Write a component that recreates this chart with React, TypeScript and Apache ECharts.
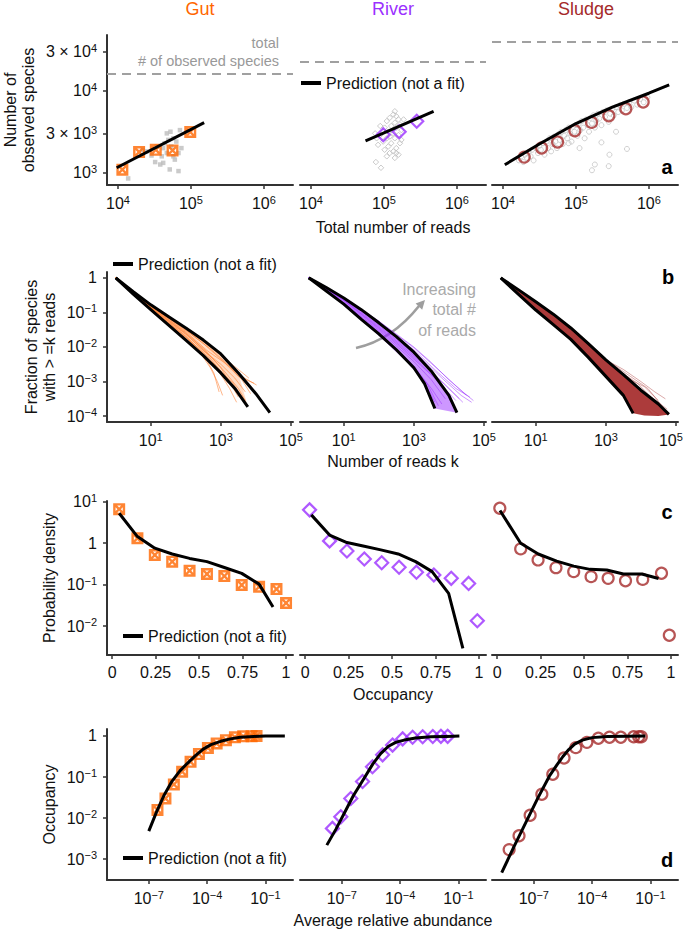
import React, { useEffect, useRef } from 'react';
import * as echarts from 'echarts';

const FONT = '"Liberation Sans", Arial, Helvetica, sans-serif';
const INK = '#111111';
const AXIS = '#333333';
const GUT = '#FF6600';
const RIVER = '#9B30FF';
const SLUDGE = '#A52A2A';
const CLOUD = '#BDBDBD';
const PRED = 'Prediction (not a fit)';

const columnTitles = ['Gut', 'River', 'Sludge'];
const columnColors = [GUT, RIVER, SLUDGE];
const panelLetters = ['a', 'b', 'c', 'd'];

// ---------------- Row a: observed species vs total reads ----------------
const aReadTicks = [1e4, 1e5, 1e6];
const aSpeciesTicks = [1e3, 3e3, 1e4, 3e4];
const aTotalSpecies = [16200, 22500, 39600];

const aGutReads = [11500, 19500, 33000, 56000, 98000];
const aGutSpecies = [1090, 1790, 1900, 1870, 3140];
const aGutPredReads = [9600, 152000];
const aGutPredSpecies = [1150, 4080];
// gray sample clouds, as [log10(reads), log10(species)]
const aGutCloudLog10 = [[4.14, 2.93], [4.34, 3.28], [4.46, 3.21], [4.53, 3.32], [4.58, 3.10], [4.62, 3.12], [4.64, 3.36], [4.67, 3.24], [4.69, 3.40], [4.71, 3.04], [4.72, 3.50], [4.73, 3.32], [4.76, 3.20], [4.78, 3.16], [4.80, 3.38], [4.83, 3.02], [4.85, 3.52], [4.83, 3.24], [4.87, 3.30], [4.60, 3.20], [4.51, 3.13], [4.67, 3.48], [4.76, 3.42], [4.39, 3.26], [4.62, 3.30]];

const aRiverReads = [98000, 162000, 282000];
const aRiverSpecies = [2900, 3160, 4250];
const aRiverPredReads = [56000, 480000];
const aRiverPredSpecies = [2450, 5600];
const aRiverCloudLog10 = [[5.15, 3.75], [5.13, 3.71], [5.17, 3.69], [5.08, 3.67], [5.2, 3.65], [5.04, 3.63], [5.15, 3.61], [5.22, 3.59], [5.1, 3.57], [5.01, 3.55], [5.17, 3.55], [5.24, 3.52], [5.06, 3.5], [5.13, 3.48], [4.95, 3.46], [5.2, 3.46], [4.9, 3.42], [5.04, 3.42], [5.15, 3.42], [4.99, 3.38], [5.1, 3.36], [5.22, 3.36], [4.92, 3.34], [5.06, 3.32], [5.17, 3.3], [5.01, 3.28], [5.13, 3.26], [5.08, 3.24], [5.2, 3.22], [5.04, 3.2], [5.15, 3.18], [4.89, 3.13], [4.96, 3.06], [5.27, 3.65], [4.88, 3.48], [4.95, 3.57], [5.24, 3.4], [5.08, 3.44], [4.99, 3.5], [5.17, 3.24]];

const aSludgeReads = [19600, 33900, 56100, 96800, 164000, 283000, 484000, 836000];
const aSludgeSpecies = [1550, 2000, 2370, 3250, 4110, 4950, 6030, 7280];
const aSludgePredReads = [10600, 31600, 100000, 316000, 1000000, 1900000];
const aSludgePredSpecies = [1250, 2240, 3980, 6310, 9330, 11800];
const aSludgeCloudLog10 = [[4.22, 3.15], [4.25, 3.2], [4.28, 3.13], [4.3, 3.22], [4.33, 3.18], [4.35, 3.25], [4.38, 3.2], [4.4, 3.28], [4.42, 3.15], [4.45, 3.3], [4.48, 3.24], [4.5, 3.33], [4.52, 3.28], [4.55, 3.36], [4.57, 3.22], [4.6, 3.38], [4.62, 3.3], [4.64, 3.42], [4.66, 3.26], [4.68, 3.35], [4.7, 3.44], [4.72, 3.38], [4.74, 3.3], [4.76, 3.47], [4.78, 3.4], [4.8, 3.5], [4.82, 3.35], [4.84, 3.45], [4.86, 3.52], [4.88, 3.42], [4.9, 3.55], [4.92, 3.48], [4.94, 3.38], [4.96, 3.56], [4.98, 3.5], [5.0, 3.58], [5.02, 3.45], [5.04, 3.6], [5.06, 3.52], [5.08, 3.63], [5.1, 3.55], [5.12, 3.42], [5.14, 3.65], [5.16, 3.58], [5.18, 3.5], [5.2, 3.67], [5.22, 3.6], [5.24, 3.7], [5.26, 3.55], [5.28, 3.64], [5.3, 3.72], [5.32, 3.66], [5.35, 3.58], [5.37, 3.74], [5.4, 3.68], [5.42, 3.76], [5.45, 3.62], [5.47, 3.72], [5.5, 3.78], [5.52, 3.7], [5.55, 3.8], [5.58, 3.74], [5.6, 3.82], [5.63, 3.76], [5.66, 3.84], [5.7, 3.79], [5.73, 3.86], [5.76, 3.8], [5.8, 3.88], [5.84, 3.83], [5.88, 3.9], [5.93, 3.86], [5.98, 3.92], [5.22, 3.03], [5.26, 3.1], [5.46, 3.22], [5.45, 3.08], [5.35, 3.37], [5.7, 3.29], [4.9, 3.36], [5.55, 3.5], [5.05, 3.3]];

// ---------------- Row b: fraction of species with >= k reads ----------------
const bKTicks = [1e1, 1e3, 1e5];
const bFracTicks = [1e-4, 1e-3, 1e-2, 1e-1, 1];
// curves as [log10(k), log10(fraction)]
const bGutUpperLog10 = [[0, 0], [0.5, -0.4], [1, -0.78], [1.5, -1.12], [2, -1.45], [2.5, -1.8], [3, -2.2], [3.5, -2.75], [4, -3.35], [4.4, -3.9]];
const bGutLowerLog10 = [[0, 0], [0.5, -0.47], [1, -0.92], [1.5, -1.36], [2, -1.8], [2.5, -2.25], [3, -2.75], [3.4, -3.2], [3.77, -3.73]];
const bGutSamplesLog10 = [
  [[0, 0], [1, -0.82], [2, -1.5], [2.5, -1.9], [3, -2.35], [3.5, -2.85], [3.95, -3.05]],
  [[0, 0], [1, -0.85], [2, -1.6], [2.5, -2.05], [3, -2.6], [3.3, -3.1], [3.5, -3.45]],
  [[0, 0], [1, -0.88], [2, -1.7], [2.5, -2.2], [2.8, -2.75], [2.95, -3.3]],
  [[0, 0], [1, -0.84], [2, -1.55], [2.6, -2.1], [3.1, -2.45], [3.6, -2.85], [4.02, -3.1]],
  [[0, 0], [1, -0.9], [2, -1.75], [2.4, -2.15], [2.7, -2.6], [2.9, -3.0], [3.05, -3.4]],
  [[0, 0], [1, -0.86], [2, -1.62], [2.5, -2.1], [3, -2.5], [3.4, -2.9], [3.7, -3.3]],
  [[0, 0], [1, -0.8], [2, -1.48], [2.5, -1.85], [3, -2.25], [3.5, -2.65], [3.8, -2.9]],
  [[0, 0], [1, -0.87], [2, -1.68], [2.6, -2.3], [3, -2.8], [3.25, -3.2], [3.45, -3.6]],
  [[0, 0], [1, -0.83], [2, -1.58], [2.6, -2.15], [3.1, -2.7], [3.5, -3.2], [3.7, -3.55]],
  [[0, 0], [1, -0.89], [2, -1.72], [2.5, -2.15], [2.9, -2.6], [3.2, -3.05]],
  [[0, 0], [1, -0.81], [2, -1.52], [2.7, -2.05], [3.2, -2.5], [3.6, -2.95], [3.85, -3.35]],
  [[0, 0], [1, -0.86], [2, -1.64], [2.6, -2.2], [3.0, -2.7], [3.35, -3.05], [3.6, -3.5]],
];
const bRiverUpperLog10 = [[0, 0], [0.5, -0.28], [1, -0.58], [1.5, -0.92], [2, -1.3], [2.5, -1.7], [3, -2.15], [3.5, -2.7], [4, -3.4], [4.23, -3.9]];
const bRiverLowerLog10 = [[0, 0], [0.5, -0.38], [1, -0.76], [1.5, -1.2], [2, -1.62], [2.5, -2.08], [3, -2.6], [3.3, -3.05], [3.6, -3.78]];
const bRiverSamplesLog10 = [
  [[0, 0], [1, -0.56], [2, -1.25], [3, -2.0], [3.5, -2.45], [4, -2.95], [4.4, -3.3], [4.7, -3.55]],
  [[0, 0], [1, -0.62], [2, -1.38], [3, -2.2], [3.6, -2.8], [4.1, -3.3], [4.4, -3.6]],
  [[0, 0], [1, -0.7], [2, -1.52], [3, -2.42], [3.5, -2.95], [3.9, -3.5]],
  [[0, 0], [1, -0.78], [2, -1.66], [2.8, -2.42], [3.3, -3.0], [3.6, -3.6]],
  [[0, 0], [1, -0.58], [2, -1.3], [3, -2.08], [3.7, -2.75], [4.2, -3.2], [4.6, -3.45]],
  [[0, 0], [1, -0.65], [2, -1.45], [3, -2.3], [3.7, -3.0], [4.2, -3.55]],
  [[0, 0], [1, -0.74], [2, -1.6], [3, -2.55], [3.4, -3.1], [3.7, -3.7]],
  [[0, 0], [1, -0.6], [2, -1.33], [3, -2.12], [3.8, -2.9], [4.35, -3.4], [4.65, -3.6]],
  [[0, 0], [1, -0.64], [2, -1.42], [3, -2.25], [3.9, -3.1], [4.3, -3.5]],
  [[0, 0], [1, -0.72], [2, -1.56], [2.9, -2.45], [3.5, -3.2], [3.8, -3.65]],
  [[0, 0], [1, -0.66], [2, -1.48], [3, -2.35], [3.6, -2.9], [4.0, -3.4]],
  [[0, 0], [1, -0.57], [2, -1.27], [3, -2.02], [3.8, -2.75], [4.5, -3.4]],
];
const bSludgeUpperLog10 = [[0, 0], [0.5, -0.34], [1, -0.69], [1.5, -1.05], [2, -1.45], [2.5, -1.9], [3, -2.37], [3.5, -2.8], [4, -3.25], [4.5, -3.65], [4.8, -3.95]];
const bSludgeLowerLog10 = [[0, 0], [0.5, -0.47], [1, -0.93], [1.5, -1.35], [2, -1.78], [2.5, -2.3], [3, -2.85], [3.5, -3.4], [3.78, -3.92]];
const bSludgeTailLog10 = [[4.1, -3.98], [4.5, -4.0]];
const bSludgeFringeLog10 = [
  [[3.0, -2.37], [3.5, -2.65], [4, -3.0], [4.4, -3.3], [4.7, -3.5]],
  [[3.2, -2.5], [3.7, -2.85], [4.2, -3.2], [4.6, -3.7]],
  [[3.4, -2.7], [3.9, -3.05], [4.3, -3.45], [4.75, -3.8]],
  [[3.6, -2.9], [4.1, -3.15], [4.5, -3.55]],
];

// ---------------- Row c: occupancy distribution ----------------
const cOccTicks = [0, 0.25, 0.5, 0.75, 1];
const cDensityTicks = [1e-2, 1e-1, 1, 1e1];
const cGutOcc = [0.04, 0.145, 0.245, 0.345, 0.445, 0.545, 0.645, 0.745, 0.845, 0.945, 1.0];
const cGutDensity = [6.65, 1.32, 0.52, 0.359, 0.217, 0.181, 0.161, 0.098, 0.089, 0.078, 0.036];
const cGutPredOcc = [0.04, 0.145, 0.245, 0.345, 0.445, 0.545, 0.645, 0.745, 0.845, 0.925];
const cGutPred = [5.3, 1.45, 0.76, 0.55, 0.43, 0.36, 0.26, 0.187, 0.103, 0.029];
const cRiverOcc = [0.025, 0.14, 0.24, 0.34, 0.44, 0.54, 0.64, 0.74, 0.84, 0.94, 0.99];
const cRiverDensity = [6.4, 1.14, 0.65, 0.417, 0.339, 0.263, 0.2, 0.171, 0.142, 0.107, 0.0134];
const cRiverPredOcc = [0.035, 0.14, 0.24, 0.34, 0.435, 0.535, 0.635, 0.73, 0.825, 0.907];
const cRiverPred = [4.84, 1.58, 1.04, 0.85, 0.69, 0.55, 0.36, 0.206, 0.0617, 0.0029];
const cSludgeOcc = [0.015, 0.135, 0.235, 0.338, 0.44, 0.54, 0.638, 0.738, 0.837, 0.945, 0.99];
const cSludgeDensity = [7.0, 0.73, 0.395, 0.257, 0.206, 0.156, 0.142, 0.124, 0.134, 0.188, 0.006];
const cSludgePredOcc = [0.016, 0.135, 0.236, 0.342, 0.44, 0.534, 0.63, 0.726, 0.832, 0.928];
const cSludgePred = [6.17, 1.0, 0.55, 0.37, 0.28, 0.234, 0.226, 0.181, 0.181, 0.141];

// ---------------- Row d: occupancy vs average relative abundance ----------------
const dAbundTicks = [1e-7, 1e-4, 1e-1];
const dOccTicks = [1e-3, 1e-2, 1e-1, 1];
const dGutAbund = [2.8e-7, 7.2e-7, 1.95e-6, 5.2e-6, 1.41e-5, 3.8e-5, 1.1e-4, 3.1e-4, 9.3e-4, 2.7e-3, 7.2e-3, 0.0195, 0.035];
const dGutOcc = [0.0158, 0.03, 0.066, 0.135, 0.234, 0.363, 0.513, 0.66, 0.79, 0.93, 0.98, 0.99, 1.0];
const dRiverAbund = [3.3e-8, 8.9e-8, 2.9e-7, 1.17e-6, 3.8e-6, 1.26e-5, 4.1e-5, 1.35e-4, 4.4e-4, 1.45e-3, 4.8e-3, 0.0126, 0.028];
const dRiverOcc = [0.0056, 0.0107, 0.03, 0.078, 0.178, 0.347, 0.6, 0.85, 0.93, 0.96, 0.97, 0.98, 0.98];
const dSludgeAbund = [5.4e-9, 1.74e-8, 6.5e-8, 2.6e-7, 9.5e-7, 3.6e-6, 1.45e-5, 5.4e-5, 2.1e-4, 7.9e-4, 3.0e-3, 0.0138, 0.025, 0.034];
const dSludgeOcc = [0.0017, 0.0037, 0.0117, 0.038, 0.117, 0.29, 0.52, 0.7, 0.88, 0.93, 0.93, 0.96, 0.96, 0.96];
// prediction curves as [log10(abundance), log10(occupancy)]
const dGutPredLog10 = [[-7.0, -2.32], [-6.6, -1.85], [-6.2, -1.43], [-5.8, -1.1], [-5.4, -0.85], [-5.0, -0.66], [-4.6, -0.48], [-4.2, -0.32], [-3.8, -0.21], [-3.3, -0.13], [-2.8, -0.07], [-2.3, -0.03], [-1.6, -0.01], [-1.0, 0], [0.0, 0]];
const dRiverPredLog10 = [[-7.77, -2.66], [-7.3, -2.27], [-6.88, -1.89], [-6.4, -1.45], [-5.85, -1.03], [-5.4, -0.68], [-5.0, -0.43], [-4.6, -0.25], [-4.2, -0.15], [-3.79, -0.1], [-3.2, -0.05], [-2.41, -0.02], [-1.6, -0.01], [-0.95, 0]];
const dSludgePredLog10 = [[-8.65, -3.33], [-8.0, -2.68], [-7.4, -2.1], [-6.8, -1.52], [-6.2, -0.98], [-5.8, -0.7], [-5.5, -0.5], [-5.2, -0.33], [-4.9, -0.2], [-4.5, -0.1], [-4.0, -0.04], [-3.2, -0.01], [-1.26, 0]];

// ---------------- layout ----------------
const COL_LEFT = [107, 300, 492];
const COL_W = 186;
const ROW_TOP = [35, 272, 501, 729];
const ROW_H = [150, 150, 154, 151];

const zip = (xs: number[], ys: number[]) => xs.map((x, i) => [x, ys[i]]);
const fromLog = (pts: number[][]) => pts.map(([a, b]) => [Math.pow(10, a), Math.pow(10, b)]);
const gi = (r: number, c: number) => r * 3 + c;

const SQUARE_X = 'path://M0 0H10V10H0Z M3.4 2L5 3.6L6.6 2Z M8 3.4L6.4 5L8 6.6Z M6.6 8L5 6.4L3.4 8Z M2 6.6L3.6 5L2 3.4Z';

const richLabel = {
  b: { fontSize: 16, lineHeight: 18, fontFamily: FONT, color: INK },
  s: { fontSize: 11, lineHeight: 11, padding: [0, 0, 8, 0], fontFamily: FONT, color: INK },
  p: { width: 10 },
};

function powLabel(v: number): string {
  const e = Math.log10(v);
  const n = Math.round(e);
  if (Math.abs(e - n) < 1e-6) {
    if (n === 0) return '{b|1}';
    return '{b|10}{s|' + (n < 0 ? '\u2212' + -n : String(n)) + '}';
  }
  const f = Math.floor(e);
  const m = Math.round(v / Math.pow(10, f));
  return '{b|' + m + ' \u00d7 10}{s|' + f + '}';
}
const plainLabel = (v: number) => '{b|' + v + '}';
// the last label at the right page edge gets a little right padding so it stays inside
const edgeLabel = (v: number) => powLabel(v) + (v > 5e4 ? '{p| }' : '');

const nameStyle = { fontSize: 16, lineHeight: 18, color: INK, fontFamily: FONT };

type RowCfg = {
  xType: string; xMin: number; xMax: number; xTicks: number[]; xFmt: (v: number) => string; xMargin: number;
  yMin: number; yMax: number; yTicks: number[];
  xName: string; xNameGap: number; yName: string; yNameGap: number;
};

const rows: RowCfg[] = [
  { xType: 'log', xMin: 7079, xMax: 2.51e6, xTicks: aReadTicks, xFmt: powLabel, xMargin: 9.5, yMin: 708, yMax: 47900, yTicks: aSpeciesTicks, xName: 'Total number of reads', xNameGap: 33, yName: 'Number of\nobserved species', yNameGap: 70 },
  { xType: 'log', xMin: 0.562, xMax: 114800, xTicks: bKTicks, xFmt: powLabel, xMargin: 9.5, yMin: 6.76e-5, yMax: 1.479, yTicks: bFracTicks, xName: 'Number of reads k', xNameGap: 30, yName: 'Fraction of species\nwith > =k reads', yNameGap: 49 },
  { xType: 'value', xMin: -0.03, xMax: 1.04, xTicks: cOccTicks, xFmt: plainLabel, xMargin: 8, yMin: 0.002, yMax: 10.47, yTicks: cDensityTicks, xName: 'Occupancy', xNameGap: 30, yName: 'Probability density', yNameGap: 49 },
  { xType: 'log', xMin: 7.08e-10, xMax: 2.63, xTicks: dAbundTicks, xFmt: powLabel, xMargin: 9.5, yMin: 3.09e-4, yMax: 1.48, yTicks: dOccTicks, xName: 'Average relative abundance', xNameGap: 31, yName: 'Occupancy', yNameGap: 49 },
];

function buildAxes() {
  const grids: any[] = [];
  const xAxes: any[] = [];
  const yAxes: any[] = [];
  rows.forEach((row, r) => {
    for (let c = 0; c < 3; c++) {
      const g = gi(r, c);
      grids.push({ left: COL_LEFT[c], top: ROW_TOP[r], width: COL_W, height: ROW_H[r], containLabel: false, outerBoundsMode: 'none' });
      const fmt = r === 1 && c === 2 ? edgeLabel : row.xFmt;
      const x: any = {
        type: row.xType, gridIndex: g, min: row.xMin, max: row.xMax,
        axisLine: { show: true, onZero: false, lineStyle: { color: AXIS, width: 2 } },
        axisTick: { show: true, length: 4, lineStyle: { color: AXIS, width: 1.5 }, customValues: row.xTicks },
        axisLabel: { customValues: row.xTicks, formatter: fmt, rich: richLabel, margin: row.xMargin, color: INK, fontSize: 16, fontFamily: FONT },
        splitLine: { show: false },
        name: c === 1 ? row.xName : '', nameLocation: 'middle', nameGap: row.xNameGap, nameTextStyle: nameStyle,
      };
      if (row.xType === 'log') x.logBase = 10;
      xAxes.push(x);
      if (c === 0) {
        yAxes.push({
          type: 'log', logBase: 10, gridIndex: g, min: row.yMin, max: row.yMax,
          axisLine: { show: true, onZero: false, lineStyle: { color: AXIS, width: 2 } },
          axisTick: { show: true, length: 4, lineStyle: { color: AXIS, width: 1.5 }, customValues: row.yTicks },
          axisLabel: { customValues: row.yTicks, formatter: powLabel, rich: richLabel, margin: 10, color: INK, fontSize: 16, fontFamily: FONT },
          splitLine: { show: false },
          name: row.yName, nameLocation: 'middle', nameGap: row.yNameGap, nameTextStyle: nameStyle,
        });
      } else {
        yAxes.push({ type: 'log', logBase: 10, gridIndex: g, min: row.yMin, max: row.yMax, show: false, axisLine: { onZero: false }, splitLine: { show: false } });
      }
    }
  });
  return { grids, xAxes, yAxes };
}

const gutMarker = { symbol: SQUARE_X, symbolSize: 12, itemStyle: { color: GUT } };
const riverMarker = { symbol: 'diamond', symbolSize: 13, itemStyle: { color: 'rgba(0,0,0,0)', borderColor: RIVER, borderWidth: 2.2 } };
const sludgeMarker = { symbol: 'circle', symbolSize: 11, itemStyle: { color: 'rgba(0,0,0,0)', borderColor: SLUDGE, borderWidth: 2.2 } };

function scatter(g: number, data: number[][], marker: any, z = 4, extra: any = {}) {
  return { type: 'scatter', xAxisIndex: g, yAxisIndex: g, data, silent: true, z, ...marker, ...extra };
}
function pred(g: number, data: number[][]) {
  return {
    name: PRED, type: 'line', xAxisIndex: g, yAxisIndex: g, data, symbol: 'none', showSymbol: false,
    color: '#000000', itemStyle: { color: '#000000' }, lineStyle: { color: '#000000', width: 3, join: 'round', cap: 'butt' },
    smooth: false, silent: true, z: 6,
  };
}
function thin(g: number, data: number[][], color: string, opacity: number, width = 1) {
  return { type: 'line', xAxisIndex: g, yAxisIndex: g, data, symbol: 'none', showSymbol: false, lineStyle: { color, width, opacity }, itemStyle: { color }, silent: true, z: 2 };
}
function band(g: number, pts: number[][], color: string, opacity: number) {
  return {
    type: 'custom', xAxisIndex: g, yAxisIndex: g, silent: true, z: 1, data: [[1, 1]],
    renderItem: (_p: any, api: any) => ({
      type: 'polygon',
      shape: { points: pts.map((p) => api.coord(p)) },
      style: { fill: color, opacity },
    }),
  };
}
function totalLine(value: number) {
  return {
    silent: true, symbol: 'none', label: { show: false },
    lineStyle: { color: '#A0A0A0', width: 2, type: [9, 6] },
    data: [{ yAxis: value }],
  };
}

function buildSeries() {
  const s: any[] = [];
  const cloudSq = { symbol: 'rect', symbolSize: 4.5, itemStyle: { color: CLOUD } };
  const cloudDia = { symbol: 'diamond', symbolSize: 5.5, itemStyle: { color: 'rgba(0,0,0,0)', borderColor: CLOUD, borderWidth: 1 } };
  const cloudCirc = { symbol: 'circle', symbolSize: 5, itemStyle: { color: 'rgba(0,0,0,0)', borderColor: CLOUD, borderWidth: 0.9 } };

  // row a
  s.push(scatter(gi(0, 0), fromLog(aGutCloudLog10), cloudSq, 2, { markLine: totalLine(aTotalSpecies[0]) }));
  s.push(scatter(gi(0, 0), zip(aGutReads, aGutSpecies), gutMarker));
  s.push(pred(gi(0, 0), zip(aGutPredReads, aGutPredSpecies)));
  s.push(scatter(gi(0, 1), fromLog(aRiverCloudLog10), cloudDia, 2, { markLine: totalLine(aTotalSpecies[1]) }));
  s.push(scatter(gi(0, 1), zip(aRiverReads, aRiverSpecies), riverMarker));
  s.push(pred(gi(0, 1), zip(aRiverPredReads, aRiverPredSpecies)));
  s.push(scatter(gi(0, 2), fromLog(aSludgeCloudLog10), cloudCirc, 2, { markLine: totalLine(aTotalSpecies[2]) }));
  s.push(scatter(gi(0, 2), zip(aSludgeReads, aSludgeSpecies), sludgeMarker));
  s.push(pred(gi(0, 2), zip(aSludgePredReads, aSludgePredSpecies)));

  // row b
  s.push(band(gi(1, 0), fromLog([...bGutLowerLog10, ...bGutUpperLog10.slice(0, 8).reverse()]), '#FF8A40', 0.3));
  bGutSamplesLog10.forEach((l) => s.push(thin(gi(1, 0), fromLog(l), '#FF7A2A', 0.55)));
  s.push(pred(gi(1, 0), fromLog(bGutUpperLog10)));
  s.push(pred(gi(1, 0), fromLog(bGutLowerLog10)));
  s.push(band(gi(1, 1), fromLog([...bRiverLowerLog10, ...bRiverUpperLog10.slice().reverse()]), RIVER, 0.5));
  bRiverSamplesLog10.forEach((l) => s.push(thin(gi(1, 1), fromLog(l), RIVER, 0.5)));
  s.push(pred(gi(1, 1), fromLog(bRiverUpperLog10)));
  s.push(pred(gi(1, 1), fromLog(bRiverLowerLog10)));
  s.push(band(gi(1, 2), fromLog([...bSludgeLowerLog10, ...bSludgeTailLog10, ...bSludgeUpperLog10.slice().reverse()]), SLUDGE, 0.92));
  bSludgeFringeLog10.forEach((l) => s.push(thin(gi(1, 2), fromLog(l), SLUDGE, 0.4)));
  s.push(pred(gi(1, 2), fromLog(bSludgeUpperLog10)));
  s.push(pred(gi(1, 2), fromLog(bSludgeLowerLog10)));

  // row c
  s.push(scatter(gi(2, 0), zip(cGutOcc, cGutDensity), gutMarker));
  s.push(pred(gi(2, 0), zip(cGutPredOcc, cGutPred)));
  s.push(scatter(gi(2, 1), zip(cRiverOcc, cRiverDensity), riverMarker));
  s.push(pred(gi(2, 1), zip(cRiverPredOcc, cRiverPred)));
  s.push(scatter(gi(2, 2), zip(cSludgeOcc, cSludgeDensity), sludgeMarker));
  s.push(pred(gi(2, 2), zip(cSludgePredOcc, cSludgePred)));

  // row d
  s.push(scatter(gi(3, 0), zip(dGutAbund, dGutOcc), gutMarker));
  s.push(pred(gi(3, 0), fromLog(dGutPredLog10)));
  s.push(scatter(gi(3, 1), zip(dRiverAbund, dRiverOcc), riverMarker));
  s.push(pred(gi(3, 1), fromLog(dRiverPredLog10)));
  s.push(scatter(gi(3, 2), zip(dSludgeAbund, dSludgeOcc), sludgeMarker));
  s.push(pred(gi(3, 2), fromLog(dSludgePredLog10)));
  return s;
}

function buildGraphic() {
  const g: any[] = [];
  const titleX = [200, 393, 586];
  columnTitles.forEach((t, i) => g.push({ type: 'text', x: titleX[i], y: 9, style: { text: t, fill: columnColors[i], fontSize: 18, fontFamily: FONT, align: 'center', verticalAlign: 'middle' } }));
  const letterPos = [[667, 167], [668, 277], [667, 512], [667, 860]];
  panelLetters.forEach((t, i) => g.push({ type: 'text', x: letterPos[i][0], y: letterPos[i][1], style: { text: t, fill: '#000', fontSize: 20, fontWeight: 'bold', fontFamily: FONT, align: 'center', verticalAlign: 'middle' } }));
  g.push({ type: 'text', x: 279, y: 43, style: { text: 'total', fill: '#999999', fontSize: 14.5, fontFamily: FONT, align: 'right', verticalAlign: 'middle' } });
  g.push({ type: 'text', x: 279, y: 61, style: { text: '# of observed species', fill: '#999999', fontSize: 14.5, fontFamily: FONT, align: 'right', verticalAlign: 'middle' } });
  g.push({ type: 'text', x: 476, y: 279, style: { text: 'Increasing\ntotal #\nof reads', fill: '#AAAAAA', fontSize: 16, lineHeight: 20.5, fontFamily: FONT, align: 'right', verticalAlign: 'top' } });
  g.push({ type: 'bezierCurve', shape: { x1: 356, y1: 348, cpx1: 392, cpy1: 340, x2: 419, y2: 306 }, style: { stroke: '#9E9E9E', lineWidth: 2.6, fill: 'none' }, silent: true });
  g.push({ type: 'polygon', shape: { points: [[425, 300], [422.2, 309.7], [415.6, 303.5]] }, style: { fill: '#9E9E9E' }, silent: true });
  return g;
}

function buildOption() {
  const { grids, xAxes, yAxes } = buildAxes();
  const legendBase = {
    data: [{ name: PRED, icon: 'rect' }], orient: 'horizontal', itemWidth: 20, itemHeight: 4, padding: 0,
    selectedMode: false, textStyle: { fontSize: 16, color: INK, fontFamily: FONT },
  };
  return {
    animation: false,
    backgroundColor: '#ffffff',
    textStyle: { fontFamily: FONT },
    grid: grids,
    xAxis: xAxes,
    yAxis: yAxes,
    legend: [
      { ...legendBase, left: 301, top: 75 },
      { ...legendBase, left: 113, top: 256 },
      { ...legendBase, left: 123, top: 628 },
      { ...legendBase, left: 123, top: 850 },
    ],
    series: buildSeries(),
    graphic: buildGraphic(),
  };
}

export default function App() {
  const ref = useRef<HTMLDivElement>(null);
  useEffect(() => {
    const el = ref.current;
    if (!el) return;
    const chart = echarts.init(el, null, { renderer: 'svg' });
    chart.setOption(buildOption() as any);
    return () => chart.dispose();
  }, []);
  return <div ref={ref} style={{ position: 'absolute', left: 0, top: 0, width: 685, height: 930, background: '#fff' }} />;
}
